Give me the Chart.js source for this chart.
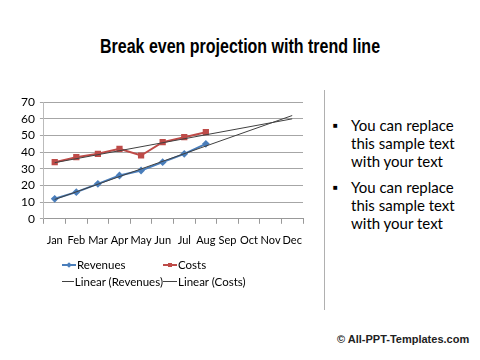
<!DOCTYPE html>
<html>
<head>
<meta charset="utf-8">
<script src="https://cdn.jsdelivr.net/npm/chart.js@4"></script>
<style>
  body { margin: 0; width: 480px; height: 360px; background: #fff; position: relative; overflow: hidden; font-family: Lato, 'Liberation Sans', sans-serif; color: #000; }
  #title { position: absolute; left: 0; width: 480px; top: 35px; text-align: center; font-family: 'Liberation Sans', sans-serif; font-weight: bold; font-size: 20px; transform: scaleX(0.8); transform-origin: 240px 0; }
  #chartBox { position: absolute; left: 0; top: 90px; width: 320px; height: 168px; }
  #legend { position: absolute; left: 62px; top: 257px; display: grid; grid-template-columns: 101px 90px; row-gap: 3px; font-size: 11.5px; }
  .item { display: flex; align-items: center; white-space: nowrap; }
  .sym { position: relative; width: 14px; height: 14px; margin-right: 1px; }
  .sym .ln { position: absolute; left: 0; right: 0; top: 7px; height: 2px; }
  .sym .thin { height: 1px; background: #404040; }
  .sym .mk { position: absolute; left: 5px; top: 6px; width: 4px; height: 4px; }
  #divider { position: absolute; left: 324px; top: 90px; width: 1px; height: 220px; background: #b0b0b0; }
  #notes { position: absolute; left: 333px; top: 116px; font-size: 15px; line-height: 18px; }
  .bullet { display: flex; margin-bottom: 8px; }
  .bullet .dot { width: 18px; font-size: 8px; line-height: 18px; }
  #footer { position: absolute; left: 337px; top: 333px; font-family: 'Liberation Sans', sans-serif; font-size: 11px; font-weight: bold; color: #222; }
</style>
</head>
<body>
<div id="title">Break even projection with trend line</div>
<div id="chartBox"><canvas id="chart"></canvas></div>
<div id="legend"></div>
<div id="divider"></div>
<div id="notes"></div>
<div id="footer">© All-PPT-Templates.com</div>
<script>
const months = ['Jan', 'Feb', 'Mar', 'Apr', 'May', 'Jun', 'Jul', 'Aug', 'Sep', 'Oct', 'Nov', 'Dec'];
const revenues = [12, 16, 21, 26, 29, 34, 39, 45];
const costs = [34, 37, 39, 42, 38, 46, 49, 52];
// trend line ends (Jan, Dec)
const trendRevenues = [11.6, 62];
const trendCosts = [33.7, 60];
const yTicks = [0, 10, 20, 30, 40, 50, 60, 70];
const notes = ['You can replace this sample text with your text', 'You can replace this sample text with your text'];

const blue = '#4a7ebb';
const red = '#be4b48';
const trendColor = '#404040';

function endsOnly(ends) {
  const row = months.map(() => null);
  row[0] = ends[0];
  row[months.length - 1] = ends[1];
  return row;
}

new Chart(document.getElementById('chart'), {
  type: 'line',
  data: {
    labels: months,
    datasets: [
      { label: 'Linear (Revenues)', data: endsOnly(trendRevenues), borderColor: trendColor, borderWidth: 1, pointRadius: 0, spanGaps: true, order: 1 },
      { label: 'Linear (Costs)', data: endsOnly(trendCosts), borderColor: trendColor, borderWidth: 1, pointRadius: 0, spanGaps: true, order: 1 },
      { label: 'Revenues', data: revenues, borderColor: blue, backgroundColor: blue, borderWidth: 2, pointStyle: 'rectRot', pointRadius: 2.5, order: 2 },
      { label: 'Costs', data: costs, borderColor: red, backgroundColor: red, borderWidth: 2, pointStyle: 'rect', pointRadius: 3, order: 2 }
    ]
  },
  options: {
    responsive: true,
    maintainAspectRatio: false,
    animation: false,
    layout: { padding: { left: 16, right: 17, top: 8, bottom: 1 } },
    plugins: { legend: { display: false }, tooltip: { enabled: false } },
    scales: {
      x: {
        offset: true,
        grid: { offset: true, drawOnChartArea: false, color: '#999', tickLength: 5 },
        border: { color: '#999' },
        ticks: { autoSkip: false, maxRotation: 0, padding: 10, color: '#000', font: { family: 'Lato', size: 11 } }
      },
      y: {
        min: 0,
        max: 70,
        afterBuildTicks: (axis) => { axis.ticks = yTicks.map((value) => ({ value })); },
        grid: { color: '#a6a6a6', tickLength: 4 },
        border: { color: '#bbb' },
        ticks: { autoSkip: false, padding: 5, color: '#000', font: { family: 'Lato', size: 12 } }
      }
    }
  }
});

const legendItems = [
  { label: 'Revenues', color: blue, marker: 'diamond' },
  { label: 'Costs', color: red, marker: 'square' },
  { label: 'Linear (Revenues)' },
  { label: 'Linear (Costs)' }
];
document.getElementById('legend').innerHTML = legendItems.map((item) => {
  const line = item.color
    ? `<span class="ln" style="background:${item.color}"></span><span class="mk" style="background:${item.color};${item.marker === 'diamond' ? 'transform:rotate(45deg)' : ''}"></span>`
    : '<span class="ln thin"></span>';
  return `<div class="item"><span class="sym">${line}</span>${item.label}</div>`;
}).join('');

document.getElementById('notes').innerHTML = notes.map((text) => `
  <div class="bullet"><span class="dot">■</span><span style="width:110px">${text}</span></div>
`).join('');
</script>
</body>
</html>
